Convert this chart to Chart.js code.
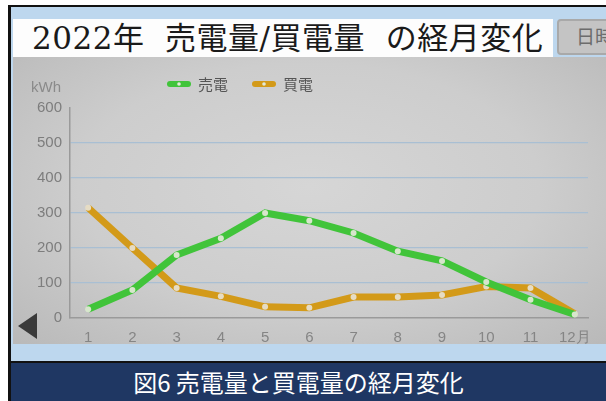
<!DOCTYPE html>
<html lang="ja">
<head>
<meta charset="utf-8">
<script src="https://cdn.jsdelivr.net/npm/chart.js@4/dist/chart.umd.min.js"></script>
<style>
  html, body { margin: 0; padding: 0; background: #fff; }
  .frame { position: absolute; left: 8px; top: 5px; width: 610px; height: 400px; border-left: 3px solid #111; border-top: 2px solid #111; background: #bdd7ee; box-sizing: border-box; }
  .title { position: absolute; left: 13px; top: 19px; width: 540px; height: 38px; background: #fdfdfd; font-family: "DejaVu Serif", "Liberation Serif", "Noto Sans CJK JP", serif; font-size: 31px; line-height: 38px; color: #1a1a1a; padding-left: 19px; box-sizing: border-box; white-space: pre; letter-spacing: 0.5px; }
  .screen { position: absolute; left: 13px; top: 57px; width: 593px; height: 287px; background: radial-gradient(ellipse at 50% 45%, #d6d6d6 0%, #cdcdcd 55%, #b9b9b9 100%); overflow: hidden; }
  .btn { position: absolute; left: 557px; top: 19px; width: 60px; height: 36px; background: #c4c4c4; border: 2px solid #a9a9a9; border-radius: 4px; box-sizing: border-box; font-family: "Noto Sans CJK JP", sans-serif; font-size: 19px; color: #6c6c6c; line-height: 30px; padding-left: 17px; white-space: pre; overflow: hidden; }
  .arrow { position: absolute; left: 18px; top: 313px; width: 0; height: 0; border-top: 13px solid transparent; border-bottom: 13px solid transparent; border-right: 19px solid #3a3a3a; }
  canvas { filter: blur(0.4px); }
  .caption { position: absolute; left: 11px; top: 361px; width: 595px; height: 40px; background: #1f3763; border-top: 2px solid #111; box-sizing: border-box; color: #fff; text-align: center; font-family: "Noto Sans CJK JP", sans-serif; font-size: 24px; line-height: 38px; padding-right: 20px; }
</style>
</head>
<body>
<div class="frame"></div>
<div class="screen"><canvas id="chart" width="593" height="287"></canvas></div>
<div class="title">2022年  売電量/買電量  の経月変化</div>
<div class="btn">日時</div>
<div class="arrow"></div>
<div class="caption">図6 売電量と買電量の経月変化</div>
<script>
const months = ['1', '2', '3', '4', '5', '6', '7', '8', '9', '10', '11', '12月']
const seriesNames = ['売電', '買電']
const sold = [25, 80, 180, 228, 300, 278, 243, 191, 163, 103, 52, 10]
const bought = [315, 200, 86, 62, 32, 29, 60, 60, 66, 90, 86, 12]
const yTicks = [0, 100, 200, 300, 400, 500, 600]

const green = '#41c43a'
const orange = '#d39a19'
const tickFont = { family: '"Liberation Sans Narrow", "Liberation Sans", sans-serif', size: 15 }

const toPoints = (values) => values.map((v, i) => ({ x: i + 1, y: v }))

// legend and unit label drawn on the canvas
const overlay = {
  id: 'overlay',
  afterDraw(chart) {
    const { ctx, chartArea } = chart
    ctx.save()
    ctx.font = '15px "Liberation Sans Narrow", sans-serif'
    ctx.fillStyle = '#8a8a8a'
    ctx.textAlign = 'right'
    ctx.textBaseline = 'middle'
    ctx.fillText('kWh', chartArea.left - 9, chartArea.top - 20)

    const items = [
      { label: seriesNames[0], color: green, x: 157 },
      { label: seriesNames[1], color: orange, x: 242 }
    ]
    const y = 27
    items.forEach((it) => {
      ctx.lineCap = 'round'
      ctx.strokeStyle = it.color
      ctx.lineWidth = 6
      ctx.beginPath()
      ctx.moveTo(it.x, y)
      ctx.lineTo(it.x + 18, y)
      ctx.stroke()
      ctx.fillStyle = '#e3ead8'
      ctx.beginPath()
      ctx.arc(it.x + 9, y, 1.8, 0, Math.PI * 2)
      ctx.fill()
      ctx.fillStyle = '#555'
      ctx.textAlign = 'left'
      ctx.font = '15px "Noto Sans CJK JP", sans-serif'
      ctx.fillText(it.label, it.x + 28, y)
    })
    ctx.restore()
  }
}

new Chart(document.getElementById('chart'), {
  type: 'line',
  data: {
    datasets: [
      {
        label: seriesNames[0],
        data: toPoints(sold),
        borderColor: green,
        backgroundColor: green,
        borderWidth: 7,
        pointRadius: 3,
        pointBorderWidth: 0,
        pointBackgroundColor: '#d7e6cc',
        tension: 0
      },
      {
        label: seriesNames[1],
        data: toPoints(bought),
        borderColor: orange,
        backgroundColor: orange,
        borderWidth: 7,
        pointRadius: 3,
        pointBorderWidth: 0,
        pointBackgroundColor: '#e6dcc4',
        tension: 0
      }
    ]
  },
  options: {
    responsive: false,
    animation: false,
    layout: { padding: { top: 51, right: 18, left: 0, bottom: 0 } },
    plugins: { legend: { display: false }, tooltip: { enabled: false } },
    scales: {
      x: {
        type: 'linear',
        min: 0.59,
        max: 12.3,
        afterBuildTicks: (axis) => { axis.ticks = months.map((m, i) => ({ value: i + 1 })) },
        afterFit: (axis) => { axis.height = 26 },
        ticks: {
          color: '#858585',
          font: tickFont,
          padding: 3,
          maxRotation: 0,
          autoSkip: false,
          callback: (v) => months[v - 1]
        },
        grid: { display: false },
        border: { color: '#9a9a9a', width: 1.5 }
      },
      y: {
        min: 0,
        max: 600,
        afterBuildTicks: (axis) => { axis.ticks = yTicks.map((v) => ({ value: v })) },
        afterFit: (axis) => { axis.width = 57 },
        ticks: { color: '#7d7d7d', font: tickFont, padding: 8 },
        grid: {
          drawTicks: false,
          color: (c) => (c.tick.value === 0 || c.tick.value === 600 ? 'rgba(0,0,0,0)' : '#a9bfd3'),
          lineWidth: 1.3
        },
        border: { color: '#9a9a9a', width: 1.5 }
      }
    }
  },
  plugins: [overlay]
})
</script>
</body>
</html>
